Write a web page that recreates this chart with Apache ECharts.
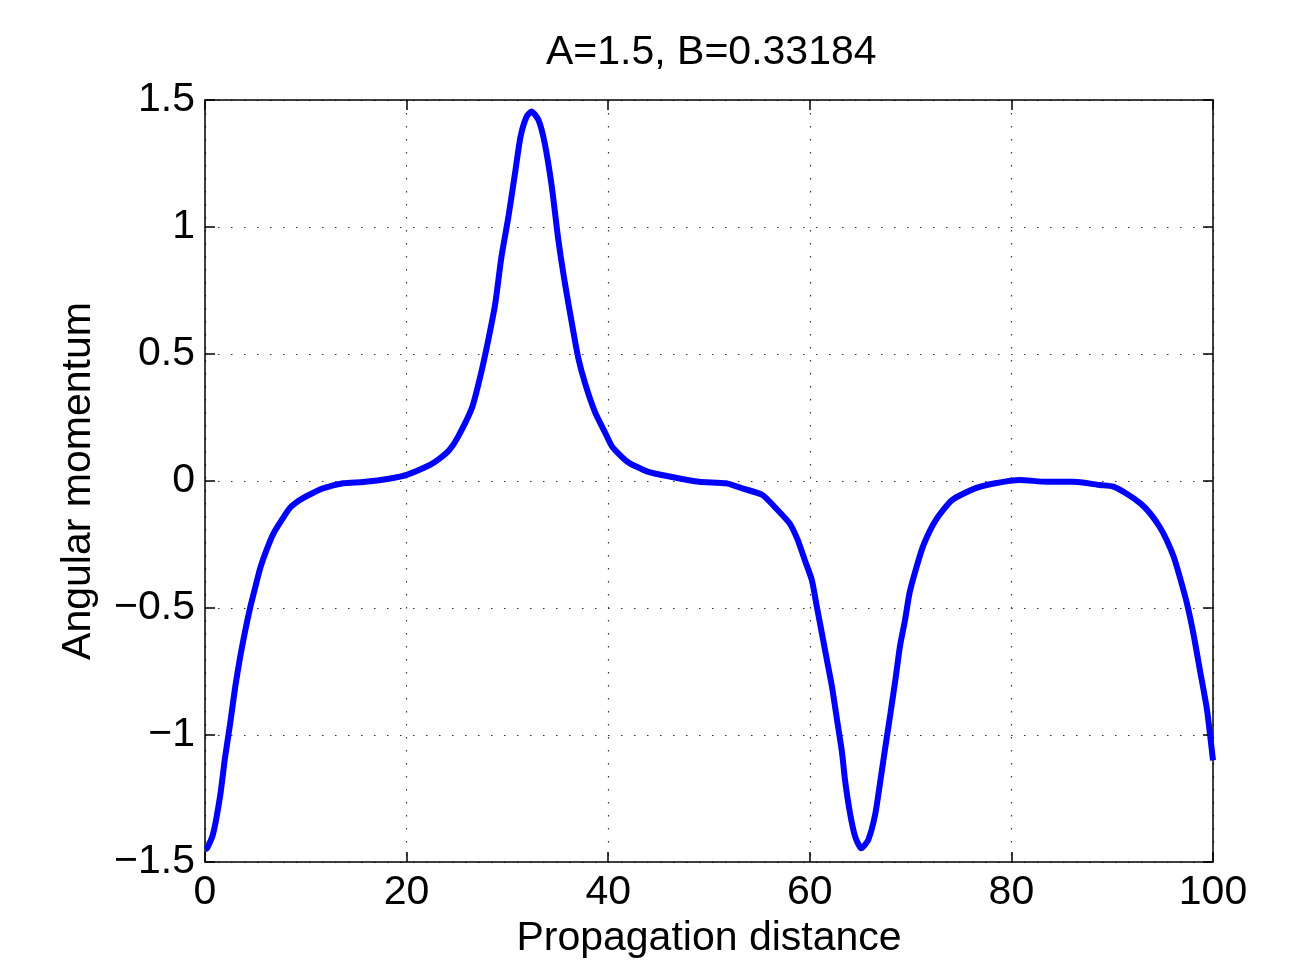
<!DOCTYPE html>
<html><head><meta charset="utf-8">
<script src="https://cdn.jsdelivr.net/npm/echarts@6/dist/echarts.min.js"></script>
<style>html,body{margin:0;padding:0;background:#fff}#c{width:1298px;height:969px}</style>
</head><body><div id="c"></div>
<script>
const titleText = "A=1.5, B=0.33184";
const xName = "Propagation distance";
const yName = "Angular momentum";
const xTicks = [0, 20, 40, 60, 80, 100];
const yTicks = [-1.5, -1, -0.5, 0, 0.5, 1, 1.5];
const distance = [0,0.2,0.8,1.5,2.0,2.5,3.0,3.5,4.0,4.5,5.0,5.5,6.1,6.8,7.6,8.4,9.4,10.3,11.7,13.7,15.7,18.4,20,22.3,23.1,24.2,25.1,26.5,27.3,28.1,28.8,29.4,30.1,30.75,31.3,31.9,32.4,33.1,33.7,34.4,35.05,35.7,36.4,37.0,37.7,38.7,39.7,40.4,41.9,43.9,46.2,49,51.7,53.3,55.3,56.8,58.0,58.8,59.5,60.2,60.7,61.2,61.7,62.2,62.7,63.2,63.5,64.0,64.5,65.1,65.8,66.5,67.0,67.5,68.0,68.5,68.95,69.45,69.9,70.6,71.3,72.5,74.1,76.4,78.4,80.8,83.5,86.2,88.8,90.1,91.4,92.8,93.75,94.7,95.4,96.1,96.7,97.4,98.05,98.7,99.4,100];
const momentum = [-1.45,-1.446,-1.39,-1.24,-1.085,-0.954,-0.81,-0.69,-0.587,-0.495,-0.416,-0.34,-0.272,-0.206,-0.154,-0.107,-0.075,-0.055,-0.029,-0.009,-0.004,0.01,0.024,0.063,0.083,0.12,0.174,0.29,0.41,0.555,0.70,0.88,1.04,1.21,1.355,1.434,1.455,1.42,1.33,1.16,0.95,0.78,0.62,0.49,0.385,0.27,0.19,0.135,0.076,0.037,0.017,-0.003,-0.009,-0.029,-0.055,-0.114,-0.167,-0.232,-0.311,-0.39,-0.495,-0.60,-0.705,-0.81,-0.94,-1.07,-1.18,-1.31,-1.40,-1.446,-1.413,-1.31,-1.18,-1.046,-0.915,-0.78,-0.65,-0.547,-0.44,-0.337,-0.25,-0.154,-0.075,-0.029,-0.009,0.004,-0.003,-0.003,-0.016,-0.022,-0.049,-0.088,-0.127,-0.18,-0.232,-0.298,-0.377,-0.48,-0.60,-0.744,-0.90,-1.10];

const FONT = 'Liberation Sans, Arial, Helvetica, sans-serif';
const FS = 41;
const fmt = v => String(v).replace('-', '\u2212');
const lineStyle = {color:'#000', width:1.5};
const gridDots = {show:true, lineStyle:{color:'#333', width:1.2, type:[1.5,11.5]}};
const chart = echarts.init(document.getElementById('c'), null, {renderer:'canvas'});
chart.setOption({
  animation:false,
  backgroundColor:'#fff',
  title:{text:titleText, left:541, top:27, textStyle:{fontFamily:FONT, fontSize:FS, fontWeight:'normal', color:'#000'}},
  grid:{left:205, right:85, top:100, bottom:107, containLabel:false},
  xAxis:[{
    type:'value', min:0, max:100, interval:20, position:'bottom',
    name:xName, nameLocation:'middle', nameGap:47,
    nameTextStyle:{fontFamily:FONT, fontSize:FS, color:'#000'},
    axisLine:{show:true, onZero:false, lineStyle},
    axisTick:{show:true, inside:true, length:10, lineStyle},
    axisLabel:{fontFamily:FONT, fontSize:FS, color:'#000', margin:10, formatter:fmt},
    splitLine:gridDots
  },{
    type:'value', min:0, max:100, interval:20, position:'top',
    axisLine:{show:true, onZero:false, lineStyle},
    axisTick:{show:true, inside:true, length:10, lineStyle},
    axisLabel:{show:false}, splitLine:{show:false}
  }],
  yAxis:[{
    type:'value', min:-1.5, max:1.5, interval:0.5, position:'left',
    name:yName, nameLocation:'middle', nameGap:106,
    nameTextStyle:{fontFamily:FONT, fontSize:FS, color:'#000'},
    axisLine:{show:true, onZero:false, lineStyle},
    axisTick:{show:true, inside:true, length:10, lineStyle},
    axisLabel:{fontFamily:FONT, fontSize:FS, color:'#000', margin:10, formatter:fmt},
    splitLine:gridDots
  },{
    type:'value', min:-1.5, max:1.5, interval:0.5, position:'right',
    axisLine:{show:true, onZero:false, lineStyle},
    axisTick:{show:true, inside:true, length:10, lineStyle},
    axisLabel:{show:false}, splitLine:{show:false}
  }],
  series:[{
    type:'line', xAxisIndex:0, yAxisIndex:0,
    data: distance.map((x,i)=>[x, momentum[i]]),
    showSymbol:false, smooth:0.2,
    lineStyle:{color:'#0000ff', width:6},
    itemStyle:{color:'#0000ff'}
  }]
});
</script></body></html>
